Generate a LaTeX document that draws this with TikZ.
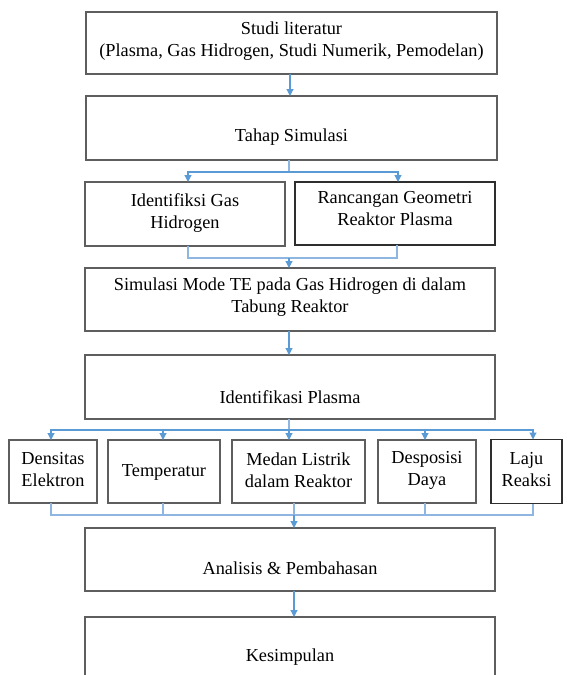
\documentclass[tikz,border=0pt]{standalone}
\usepackage{fontspec}
\setmainfont{Liberation Serif}
\usetikzlibrary{arrows.meta}
\definecolor{boxgray}{HTML}{5E5E5E}
\definecolor{darkgray}{HTML}{2E2E2E}
\definecolor{arrblue}{HTML}{5B9BD5}
\definecolor{mergeblue}{HTML}{8FB6E0}
\begin{document}
\begin{tikzpicture}[x=1pt,y=-1pt,
  box/.style={draw=boxgray, line width=1.3pt, fill=white, inner sep=0pt, outer sep=0pt},
  darkbox/.style={box, draw=darkgray},
  txt/.style={font=\fontsize{18.3pt}{22pt}\selectfont, align=center, inner sep=0pt},
  conn/.style={draw=arrblue, line width=1.1pt, -{Triangle[width=7pt,length=7pt]}},
  mline/.style={draw=mergeblue, line width=1.1pt}]
\useasboundingbox (0,0) rectangle (566,675);
% main boxes
\node[box, minimum width=411pt, minimum height=62pt] (b1) at (291.5,43) {};
\node[txt] (t1) at (291.5,41) {Studi literatur\\(Plasma, Gas Hidrogen, Studi Numerik, Pemodelan)};
\node[box, minimum width=411pt, minimum height=64pt] (b2) at (291.5,128) {};
\node[txt] (t2) at (291.5,137) {Tahap Simulasi};
\node[box, minimum width=200pt, minimum height=64pt] (b3a) at (185,214) {};
\node[txt] (t3a) at (185,213) {Identifiksi Gas\\Hidrogen};
\node[darkbox, minimum width=200pt, minimum height=63pt] (b3b) at (395,213.5) {};
\node[txt] (t3b) at (395,209) {Rancangan Geometri\\Reaktor Plasma};
\node[box, minimum width=410pt, minimum height=63pt] (b4) at (290,299.5) {};
\node[txt] (t4) at (290,297) {Simulasi Mode TE pada Gas Hidrogen di dalam\\Tabung Reaktor};
\node[box, minimum width=410pt, minimum height=64pt] (b5) at (290,387) {};
\node[txt] (t5) at (290,397) {Identifikasi Plasma};
% row
\node[box, minimum width=88pt, minimum height=63pt] (r1) at (53,471.5) {};
\node[txt] (s1) at (53,470) {Densitas\\Elektron};
\node[box, minimum width=112pt, minimum height=63pt] (r2) at (164,471.5) {};
\node[txt] (s2) at (164,472) {Temperatur};
\node[box, minimum width=133pt, minimum height=63pt] (r3) at (298.5,471.5) {};
\node[txt] (s3) at (298.5,470) {Medan Listrik\\dalam Reaktor};
\node[box, minimum width=98pt, minimum height=63pt] (r4) at (427,471.5) {};
\node[txt] (s4) at (427,470) {Desposisi\\Daya};
\node[darkbox, minimum width=71pt, minimum height=64pt] (r5) at (526.5,471.5) {};
\node[txt] (s5) at (526.5,470) {Laju\\Reaksi};
\node[box, minimum width=410pt, minimum height=63pt] (b6) at (290,559.5) {};
\node[txt] (t6) at (290,568) {Analisis \& Pembahasan};
\node[box, minimum width=410pt, minimum height=80pt] (b7) at (290,657) {};
\node[txt] (t7) at (290,657) {Kesimpulan};
% connectors
\coordinate (j2) at (289,172);
\coordinate (j3) at (289,258);
\coordinate (j5) at (289,430);
\coordinate (j6) at (294,515);
\draw[conn] (b1.south -| 290,0) -- (b2.north -| 290,0);
\draw[mline] (b2.south -| j2) -- (j2);
\draw[conn] (j2) -| (b3a.north -| 188,0);
\draw[conn] (j2) -| (b3b.north -| 398,0);
\draw[mline] (b3a.south -| 188,0) |- (j3);
\draw[mline] (b3b.south -| 397,0) |- (j3);
\draw[conn] (j3) -- (b4.north -| j3);
\draw[conn] (b4.south -| 289,0) -- (b5.north -| 289,0);
\draw[mline] (b5.south -| j5) -- (j5);
\draw[conn] (j5) -| (r1.north -| 51,0);
\draw[conn] (j5) -| (r2.north -| 163,0);
\draw[conn] (j5) -- (r3.north -| j5);
\draw[conn] (j5) -| (r4.north -| 425,0);
\draw[conn] (j5) -| (r5.north -| 533,0);
\draw[mline] (r1.south -| 51,0) |- (j6);
\draw[mline] (r2.south -| 163,0) |- (j6);
\draw[mline] (r3.south -| j6) -- (j6);
\draw[mline] (r4.south -| 425,0) |- (j6);
\draw[mline] (r5.south -| 533,0) |- (j6);
\draw[conn] (j6) -- (b6.north -| j6);
\draw[conn] (b6.south -| 294,0) -- (b7.north -| 294,0);
\end{tikzpicture}
\end{document}
